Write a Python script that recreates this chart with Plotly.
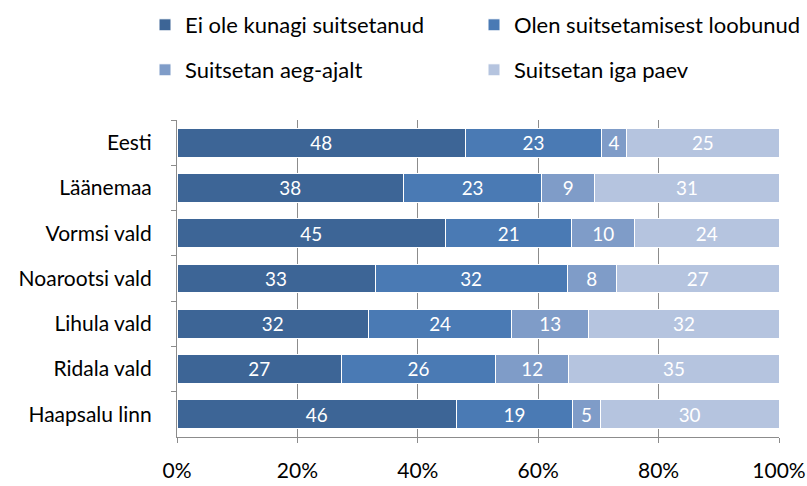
import plotly.graph_objects as go

categories = ["Eesti", "Läänemaa", "Vormsi vald", "Noarootsi vald", "Lihula vald", "Ridala vald", "Haapsalu linn"]
series_names = ["Ei ole kunagi suitsetanud", "Olen suitsetamisest loobunud", "Suitsetan aeg-ajalt", "Suitsetan iga paev"]
never = [47.9, 37.6, 44.6, 32.9, 31.8, 27.3, 46.4]
quit_ = [22.6, 23.0, 21.0, 31.9, 23.8, 25.6, 19.3]
sometimes = [4.2, 8.8, 10.4, 8.2, 12.8, 12.2, 4.6]
daily = [25.3, 30.6, 24.0, 27.0, 31.6, 34.9, 29.7]
x_ticks = [0, 20, 40, 60, 80, 100]
x_tick_labels = ["0%", "20%", "40%", "60%", "80%", "100%"]

colors = ["#3D6596", "#4A7AB4", "#7F9CC8", "#B5C4DF"]
FONT = "Lato"
FS = 21

fig = go.Figure()
for i, (name, vals) in enumerate(zip(series_names, [never, quit_, sometimes, daily])):
    fig.add_trace(go.Bar(
        y=categories, x=vals, name=name, orientation="h",
        marker=dict(color=colors[i], line=dict(color="white", width=1)),
        texttemplate="%{x:.0f}", textposition="inside", insidetextanchor="middle",
        textangle=0,
        textfont=dict(color="white", size=23, family=FONT),
        legend="legend" if i < 2 else "legend2",
        hoverinfo="skip",
    ))

W, H = 807, 486
ml, mr, mt, mb = 177, 28, 120, 49
pw = W - ml - mr
ph = H - mt - mb

def px_x(p):
    return (p - ml) / pw

def px_y(p):
    return (H - mb - p) / ph

legend_common = dict(
    orientation="h", xanchor="left", yanchor="middle", traceorder="normal",
    font=dict(family=FONT, size=22, color="black"),
    entrywidth=284, entrywidthmode="pixels",
    bgcolor="rgba(0,0,0,0)", borderwidth=0,
)

fig.update_layout(
    width=W, height=H,
    margin=dict(l=ml, r=mr, t=mt, b=mb, autoexpand=False),
    barmode="stack", bargap=0.36,
    paper_bgcolor="white", plot_bgcolor="white",
    font=dict(family=FONT, size=FS, color="black"),
    uniformtext=dict(minsize=8, mode="show"),
    legend=dict(x=px_x(145), y=px_y(25), **legend_common),
    legend2=dict(x=px_x(145), y=px_y(70), **legend_common),
    xaxis=dict(
        range=[0, 100], tickvals=x_ticks, ticktext=x_tick_labels,
        showgrid=True, gridcolor="#8C8C8C", gridwidth=1,
        showline=True, linecolor="#8C8C8C", linewidth=1,
        ticks="outside", ticklen=5, tickcolor="#8C8C8C",
        ticklabelstandoff=10, zeroline=False, automargin=False,
        tickfont=dict(family=FONT, size=FS, color="black"),
    ),
    yaxis=dict(
        autorange="reversed", type="category",
        showline=True, linecolor="#8C8C8C", linewidth=1,
        ticks="outside", ticklen=5, tickcolor="#8C8C8C", tickson="boundaries",
        ticklabelstandoff=20, showgrid=False, automargin=False,
        tickfont=dict(family=FONT, size=FS, color="black"),
    ),
)

fig.write_html("out.html", config={"displayModeBar": False},
               post_script="document.body.style.margin='0';")
